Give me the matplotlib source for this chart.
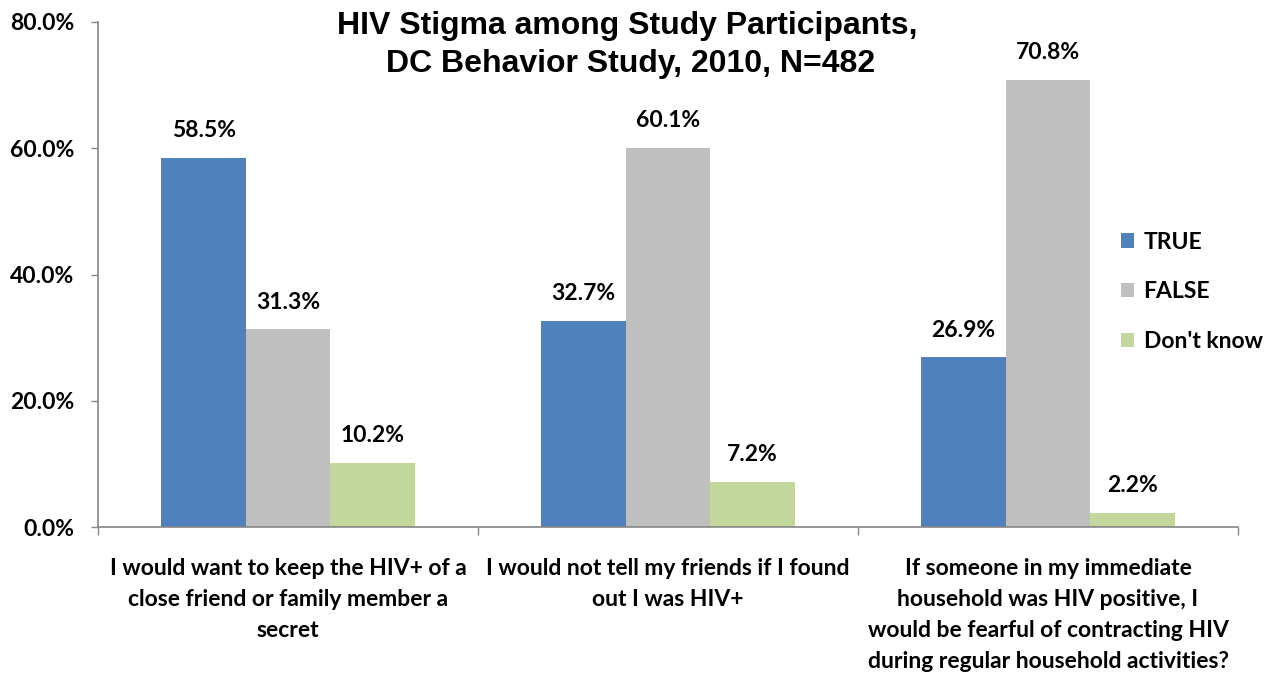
import matplotlib
matplotlib.use("Agg")
import matplotlib.pyplot as plt
import numpy as np
from matplotlib.ticker import FuncFormatter

categories = [
    "I would want to keep the HIV+ of a\nclose friend or family member a\nsecret",
    "I would not tell my friends if I found\nout I was HIV+",
    "If someone in my immediate\nhousehold was HIV positive, I\nwould be fearful of contracting HIV\nduring regular household activities?",
]
series_names = ["TRUE", "FALSE", "Don't know"]
true_vals = [58.5, 32.7, 26.9]
false_vals = [31.3, 60.1, 70.8]
dk_vals = [10.2, 7.2, 2.2]
colors = ["#4F81BD", "#BFBFBF", "#C3D69B"]

FONT = ["Lato", "DejaVu Sans"]
FS = 16.5

fig = plt.figure(figsize=(12.73, 6.73), dpi=100)
ax = fig.add_axes([98/1273, 146/673, 1140/1273, 505/673])

x = np.arange(len(categories))
w = 0.222
for i, (vals, name, c) in enumerate(zip([true_vals, false_vals, dk_vals], series_names, colors)):
    pos = x + (i - 1) * w
    ax.bar(pos, vals, width=w, color=c, label=name)
    for p, v in zip(pos, vals):
        ax.annotate(f"{v:.1f}%", (p, v), xytext=(0, 12), textcoords="offset points",
                    ha="center", va="bottom", fontsize=FS, fontweight="bold", family=FONT)

ax.set_xlim(-0.5, 2.5)
ax.set_ylim(0, 80)
ax.set_yticks([0, 20, 40, 60, 80])
ax.yaxis.set_major_formatter(FuncFormatter(lambda v, p: f"{v:.1f}%"))
ax.set_xticks([-0.5, 0.5, 1.5, 2.5])
ax.set_xticklabels([])
ax.set_xticks(x, minor=True)
ax.set_xticklabels(categories, minor=True, fontsize=FS, fontweight="bold", family=FONT, linespacing=1.6)
ax.tick_params(axis="x", which="minor", length=0, pad=22)
ax.tick_params(axis="x", which="major", length=6, color="#868686", width=1)
ax.tick_params(axis="y", length=5, color="#868686", width=1, pad=12)
for lbl in ax.get_yticklabels():
    lbl.set_fontsize(FS)
    lbl.set_fontweight("bold")
    lbl.set_family(FONT)

for s in ["top", "right"]:
    ax.spines[s].set_visible(False)
for s in ["left", "bottom"]:
    ax.spines[s].set_color("#868686")
    ax.spines[s].set_linewidth(1.2)

fig.text(627/1273, 1 - 26/673, "HIV Stigma among Study Participants,", ha="center", va="center",
         fontsize=23, fontweight="bold", family=["Liberation Sans", "DejaVu Sans"])
fig.text(631/1273, 1 - 64/673, "DC Behavior Study, 2010, N=482", ha="center", va="center",
         fontsize=23, fontweight="bold", family=["Liberation Sans", "DejaVu Sans"])

leg = fig.legend(loc="upper left", bbox_to_anchor=(1100/1273, 1 - 211/673), frameon=False,
                 prop={"family": FONT, "weight": "bold", "size": FS},
                 handlelength=0.6, handleheight=0.6, handletextpad=0.4, labelspacing=1.25)

fig.savefig("out.png", dpi=100)
